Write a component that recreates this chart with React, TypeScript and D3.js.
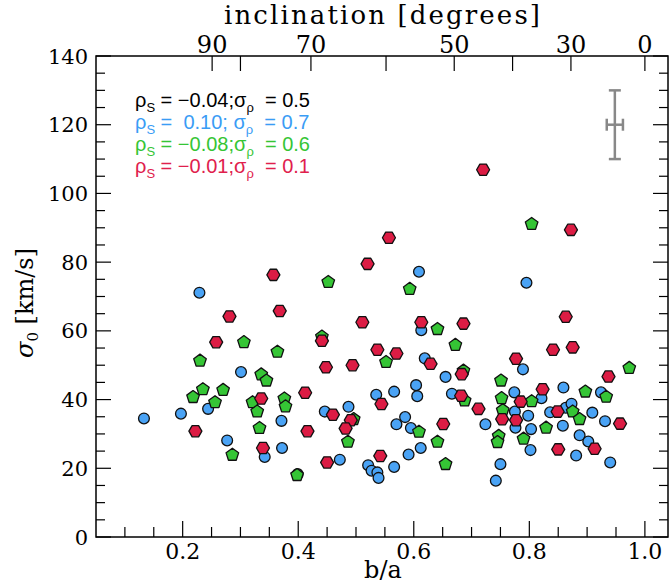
import React from "react";
import * as d3 from "d3";

// ---- data (b/a, sigma0 km/s) ----
const blueQ = [0.133,0.197,0.229,0.244,0.301,0.277,0.342,0.371,0.372,0.399,0.609,0.613,0.619,0.655,0.535,0.566,0.604,0.606,0.666,0.446,0.487,0.585,0.570,0.595,0.612,0.591,0.566,0.521,0.527,0.537,0.539,0.472,0.789,0.774,0.859,0.924,0.821,0.775,0.798,0.724,0.776,0.803,0.836,0.863,0.873,0.909,0.931,0.858,0.887,0.902,0.802,0.881,0.940,0.750,0.742,0.795];
const blueS = [34.5,35.9,71.1,37.3,48.0,28.1,23.3,33.8,25.9,18.3,77.2,60.2,52.0,46.6,41.4,42.3,44.2,41.0,41.7,36.5,37.9,34.9,32.8,31.7,25.9,24.0,20.4,20.9,19.3,18.8,17.2,22.5,48.8,42.1,43.5,42.1,40.4,36.5,35.3,32.8,31.8,31.4,36.3,37.6,38.8,36.2,33.7,32.4,29.6,27.8,25.3,23.7,21.7,21.2,16.4,74.0];

const greenQ = [0.230,0.336,0.345,0.235,0.270,0.218,0.256,0.321,0.329,0.376,0.378,0.333,0.286,0.364,0.398,0.306,0.452,0.593,0.641,0.441,0.672,0.552,0.686,0.688,0.496,0.486,0.609,0.641,0.655,0.973,0.751,0.897,0.933,0.752,0.804,0.754,0.875,0.887,0.829,0.747,0.745,0.790,0.804];
const greenS = [51.3,47.3,45.5,43.0,42.8,40.7,39.2,39.2,36.5,40.3,38.0,31.7,23.9,53.9,18.0,56.7,74.2,72.2,60.5,58.3,55.9,50.9,48.4,39.7,34.3,27.7,30.6,27.7,21.2,49.2,45.5,42.3,40.8,40.4,39.5,36.9,36.5,34.3,31.8,29.4,27.6,28.6,91.1];

const redQ = [0.357,0.368,0.281,0.258,0.222,0.336,0.339,0.557,0.520,0.511,0.613,0.686,0.441,0.537,0.570,0.629,0.448,0.494,0.683,0.412,0.682,0.544,0.460,0.491,0.482,0.416,0.651,0.542,0.450,0.720,0.872,0.863,0.841,0.875,0.777,0.937,0.823,0.785,0.712,0.753,0.777,0.849,0.957,0.913,0.850];
const redS = [76.3,65.8,64.2,56.7,30.8,40.3,25.9,87.1,79.5,62.5,62.5,62.1,57.1,54.5,53.4,50.4,49.4,50.0,47.4,42.0,41.1,38.7,35.6,34.0,31.6,30.8,32.9,23.6,21.7,106.9,89.4,64.1,54.5,55.2,51.9,46.7,43.0,39.4,37.3,34.3,34.0,36.5,33.0,25.7,25.5];

const xMajor = [0.2, 0.4, 0.6, 0.8, 1.0];
const xMajorLabels = ["0.2", "0.4", "0.6", "0.8", "1.0"];
const yMajor = [0, 20, 40, 60, 80, 100, 120, 140];
const incTickQ = [0.251, 0.300, 0.422, 0.552, 0.670, 0.771, 0.872, 1.0];
const incTickLabels = ["90", "", "70", "", "50", "", "30", "0"];

const legendRows = [
  { r: "−0.04;", s: "σ", v: "  = 0.5", color: "#000000" },
  { r: " 0.10; ", s: "σ", v: "  = 0.7", color: "#3a9cf5" },
  { r: "−0.08;", s: "σ", v: "  = 0.6", color: "#35c535" },
  { r: "−0.01;", s: "σ", v: "  = 0.1", color: "#e0204c" },
];

const errQ = 0.948, errS = 120, errDQ = 0.014, errDS = 10;

const W = 670, H = 585;
const serif = "'DejaVu Serif', serif";
const sans = "'Liberation Sans', Arial, sans-serif";

export default function App() {
  const x = d3.scaleLinear().domain([0.05, 1.04]).range([96, 668]);
  const y = d3.scaleLinear().domain([0, 140]).range([537, 56]);
  const [x0, x1] = x.range();
  const [y0, y1] = y.range();

  const xMinor = d3.range(0.1, 1.0001, 0.05).filter(v => !xMajor.some(m => Math.abs(m - v) < 1e-6));
  const yMinor = d3.range(5, 140, 5).filter(v => v % 20 !== 0);

  const poly = (n: number, r: number, start: number) => {
    const pts: [number, number][] = d3.range(n).map(i => {
      const a = start + (i * 2 * Math.PI) / n;
      return [r * Math.cos(a), r * Math.sin(a)];
    });
    return (d3.line()(pts) || "") + "Z";
  };
  const hexPath = poly(6, 6.5, 0);
  const pentPath = poly(5, 6.6, -Math.PI / 2);

  const stroke = "#111";
  return (
    <svg width={W} height={H} style={{ position: "absolute", left: 0, top: 0, background: "#fff" }}>
      {/* title */}
      <text x={382} y={24} textAnchor="middle" fontFamily={serif} fontSize={26} textLength={316} lengthAdjust="spacing">inclination [degrees]</text>
      {/* top ticks */}
      {incTickQ.map((q, i) => (
        <g key={"it" + i}>
          <line x1={x(q)} x2={x(q)} y1={y1} y2={y1 + 15} stroke="#000" strokeWidth={1.2} />
          {incTickLabels[i] && (
            <text x={x(q)} y={53} textAnchor="middle" fontFamily={serif} fontSize={24}>{incTickLabels[i]}</text>
          )}
        </g>
      ))}
      {/* bottom ticks */}
      {xMajor.map((v, i) => (
        <g key={"xm" + i}>
          <line x1={x(v)} x2={x(v)} y1={y0} y2={y0 - 16} stroke="#000" strokeWidth={1.2} />
          <text x={x(v)} y={559} textAnchor="middle" fontFamily={serif} fontSize={22}>{xMajorLabels[i]}</text>
        </g>
      ))}
      {xMinor.map((v, i) => (
        <line key={"xn" + i} x1={x(v)} x2={x(v)} y1={y0} y2={y0 - 10} stroke="#000" strokeWidth={1.2} />
      ))}
      {/* y ticks both sides */}
      {yMajor.map(v => (
        <g key={"ym" + v}>
          <line x1={x0} x2={x0 + 15} y1={y(v)} y2={y(v)} stroke="#000" strokeWidth={1.2} />
          <line x1={x1} x2={x1 - 15} y1={y(v)} y2={y(v)} stroke="#000" strokeWidth={1.2} />
          <text x={88} y={y(v)} dy="0.36em" textAnchor="end" fontFamily={serif} fontSize={21}>{v}</text>
        </g>
      ))}
      {yMinor.map(v => (
        <g key={"yn" + v}>
          <line x1={x0} x2={x0 + 9} y1={y(v)} y2={y(v)} stroke="#000" strokeWidth={1.2} />
          <line x1={x1} x2={x1 - 9} y1={y(v)} y2={y(v)} stroke="#000" strokeWidth={1.2} />
        </g>
      ))}
      {/* frame */}
      <rect x={x0} y={y1} width={x1 - x0} height={y0 - y1} fill="none" stroke="#000" strokeWidth={1.5} />
      {/* axis labels */}
      <text x={383} y={578} textAnchor="middle" fontFamily={serif} fontSize={24}>b/a</text>
      <text transform="translate(33,303) rotate(-90)" textAnchor="middle" fontFamily={serif} fontSize={24}>
        <tspan fontStyle="italic">σ</tspan>
        <tspan fontSize={15} dy={5}>0</tspan>
        <tspan dy={-5}> [km/s]</tspan>
      </text>
      {/* legend */}
      {legendRows.map((r, i) => (
        <text key={"lg" + i} x={135} y={106.5 + i * 22} fill={r.color} fontFamily={sans} fontSize={20} style={{ whiteSpace: "pre" }}>
          <tspan>ρ</tspan>
          <tspan fontSize={13} dy={5}>S</tspan>
          <tspan dy={-5}>{" = " + r.r}</tspan>
          <tspan>{r.s}</tspan>
          <tspan fontSize={13} dy={5}>ρ</tspan>
          <tspan dy={-5}>{r.v}</tspan>
        </text>
      ))}
      {/* error bar */}
      <g stroke="#888" strokeWidth={2.5} fill="none">
        <line x1={x(errQ)} x2={x(errQ)} y1={y(errS - errDS)} y2={y(errS + errDS)} />
        <line x1={x(errQ) - 6} x2={x(errQ) + 6} y1={y(errS + errDS)} y2={y(errS + errDS)} />
        <line x1={x(errQ) - 6} x2={x(errQ) + 6} y1={y(errS - errDS)} y2={y(errS - errDS)} />
        <line x1={x(errQ - errDQ)} x2={x(errQ + errDQ)} y1={y(errS)} y2={y(errS)} />
        <line x1={x(errQ - errDQ)} x2={x(errQ - errDQ)} y1={y(errS) - 6} y2={y(errS) + 6} />
        <line x1={x(errQ + errDQ)} x2={x(errQ + errDQ)} y1={y(errS) - 6} y2={y(errS) + 6} />
      </g>
      {/* points */}
      {blueQ.map((q, i) => (
        <circle key={"b" + i} cx={x(q)} cy={y(blueS[i])} r={5.4} fill="#4aa3f5" stroke={stroke} strokeWidth={1.3} />
      ))}
      {greenQ.map((q, i) => (
        <path key={"g" + i} d={pentPath} transform={`translate(${x(q)},${y(greenS[i])})`} fill="#35c535" stroke={stroke} strokeWidth={1.3} strokeLinejoin="round" />
      ))}
      {redQ.map((q, i) => (
        <path key={"r" + i} d={hexPath} transform={`translate(${x(q)},${y(redS[i])})`} fill="#dc1c44" stroke={stroke} strokeWidth={1.3} strokeLinejoin="round" />
      ))}
    </svg>
  );
}
